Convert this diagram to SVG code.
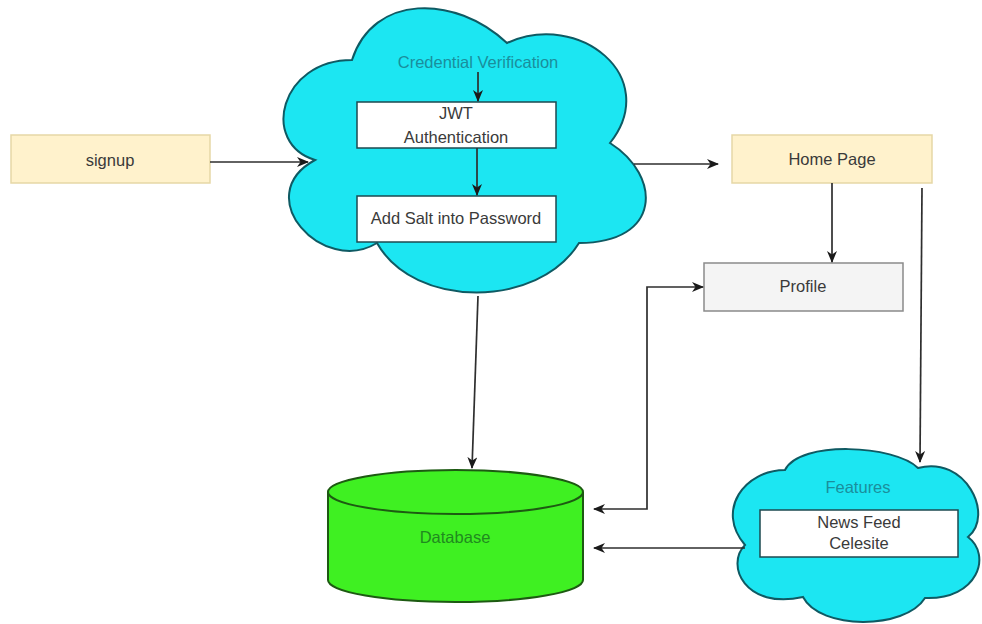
<svg xmlns="http://www.w3.org/2000/svg" width="982" height="624" viewBox="0 0 982 624">
  <style>
    .lbl { font-family: "Liberation Sans", Arial, sans-serif; font-size: 16.5px; fill: #3a3a3a; text-anchor: middle; }
    .teal { fill: #1a8e9c; }
    .dbtxt { fill: #1f8a1f; }
    .cloud { fill: #1ce6f2; stroke: #0f5a63; stroke-width: 2; }
    .inner { fill: #ffffff; stroke: #1c4a50; stroke-width: 1.5; }
    .note { fill: #fff2cc; stroke: #e6d7a6; stroke-width: 1.5; }
    .plain { fill: #f4f4f4; stroke: #8a8a8a; stroke-width: 1.5; }
    .edge { fill: none; stroke: #2e2e2e; stroke-width: 1.7; }
  </style>
  <defs>
    <marker id="arrow" viewBox="0 0 12 10" refX="11" refY="5" markerWidth="12" markerHeight="10" markerUnits="userSpaceOnUse" orient="auto-start-reverse">
      <path d="M0,0 L12,5 L0,10 L3.5,5 Z" fill="#1a1a1a"/>
    </marker>
  </defs>

  <rect width="982" height="624" fill="#ffffff"/>

  <!-- signup -->
  <g id="signup">
    <rect class="note" x="11" y="135" width="199" height="48"/>
    <text class="lbl" x="110" y="166">signup</text>
  </g>

  <!-- authentication cloud -->
  <g id="auth-cloud">
    <path class="cloud" d="M352,60 C280,60 260,143 315,160 C249,196 323,276 377,243 C414,309 538,309 579,243 C662,243 662,176 610,143 C662,77 579,10 507,43 C455,-6 373,-6 352,60 Z"/>
    <text class="lbl teal" x="478" y="68">Credential Verification</text>
  </g>

  <g id="jwt">
    <rect class="inner" x="357" y="102" width="199" height="46"/>
    <text class="lbl" x="456" y="119">JWT</text>
    <text class="lbl" x="456" y="143">Authentication</text>
  </g>

  <g id="salt">
    <rect class="inner" x="357" y="196" width="199" height="46"/>
    <text class="lbl" x="456" y="224">Add Salt into Password</text>
  </g>

  <!-- home page -->
  <g id="home">
    <rect class="note" x="732" y="135" width="200" height="48"/>
    <text class="lbl" x="832" y="165">Home Page</text>
  </g>

  <!-- profile -->
  <g id="profile">
    <rect class="plain" x="704" y="263" width="199" height="48"/>
    <text class="lbl" x="803" y="292">Profile</text>
  </g>

  <!-- database cylinder -->
  <g id="database">
    <path d="M328,492 A127.5,22 0 0 1 583,492 L583,580 A127.5,22 0 0 1 328,580 Z" fill="#3ff022" stroke="#1d5a12" stroke-width="2"/>
    <path d="M328,492 A127.5,22 0 0 0 583,492" fill="none" stroke="#1d5a12" stroke-width="2"/>
    <text class="lbl dbtxt" x="455" y="543">Database</text>
  </g>

  <!-- features cloud -->
  <g id="features">
    <path class="cloud" d="M785,470 C745,470 715,510 745,545 C725,565 745,610 803,597 C820,630 905,630 925,598 C978,600 992,555 968,537 C995,515 965,455 918,468 C895,445 800,440 785,470 Z"/>
    <text class="lbl teal" x="858" y="493">Features</text>
    <rect class="inner" x="760" y="510" width="198" height="47"/>
    <text class="lbl" x="859" y="528">News Feed</text>
    <text class="lbl" x="859" y="549">Celesite</text>
  </g>

  <!-- connectors -->
  <g id="connectors">
    <path class="edge" d="M210,162 L308,162" marker-end="url(#arrow)"/>
    <path class="edge" d="M478,72 L478,101" marker-end="url(#arrow)"/>
    <path class="edge" d="M477,148 L477,195" marker-end="url(#arrow)"/>
    <path class="edge" d="M634,164 L718,164" marker-end="url(#arrow)"/>
    <path class="edge" d="M478,296 L472,468" marker-end="url(#arrow)"/>
    <path class="edge" d="M832,183 L832,262" marker-end="url(#arrow)"/>
    <path class="edge" d="M922,188 L920,462" marker-end="url(#arrow)"/>
    <path class="edge" d="M594,509 L647,509 L647,287 L703,287" marker-start="url(#arrow)" marker-end="url(#arrow)"/>
    <path class="edge" d="M745,548 L594,548" marker-end="url(#arrow)"/>
  </g>
</svg>
